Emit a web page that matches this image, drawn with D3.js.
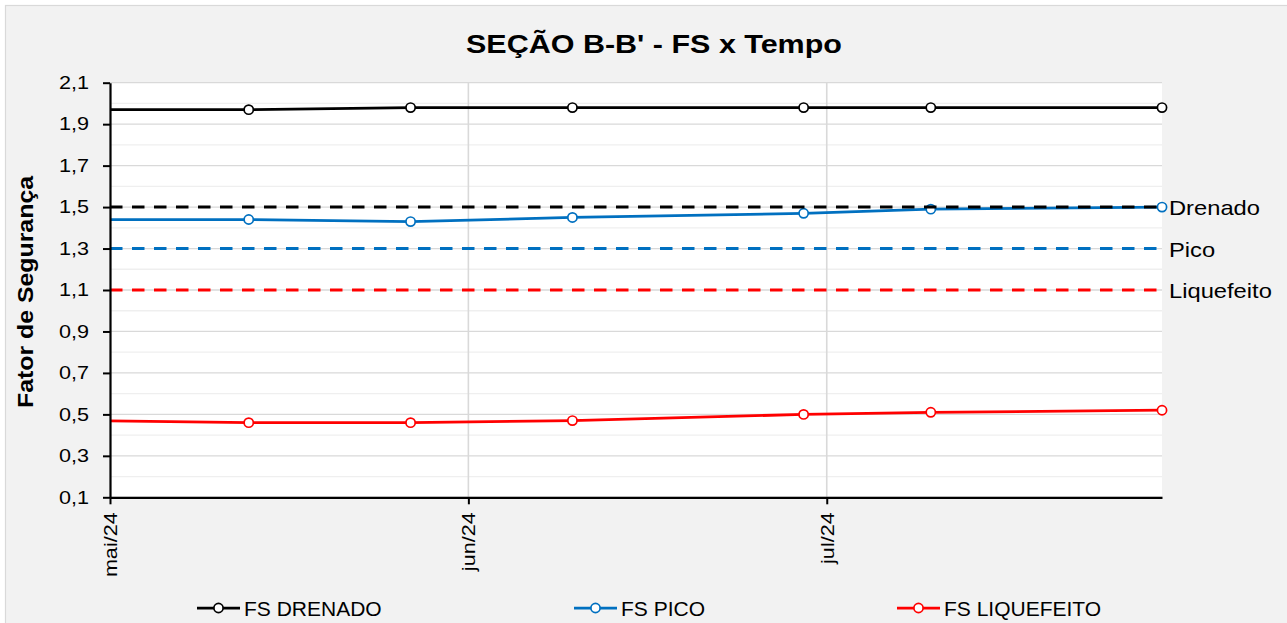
<!DOCTYPE html>
<html>
<head>
<meta charset="utf-8">
<script src="https://cdn.jsdelivr.net/npm/d3@7"></script>
<style>
  html, body { margin: 0; padding: 0; background: #ffffff; }
  svg { display: block; font-family: "Liberation Sans", Arial, sans-serif; }
</style>
</head>
<body>
<svg id="chart" width="1287" height="623"></svg>
<script>
// ---- data ----
const dates        = ["2024-04-29", "2024-05-13", "2024-05-27", "2024-06-10", "2024-06-30", "2024-07-11", "2024-07-31"];
const fsDrenado    = [1.97, 1.97, 1.98, 1.98, 1.98, 1.98, 1.98];
const fsPico       = [1.44, 1.44, 1.43, 1.45, 1.47, 1.49, 1.50];
const fsLiquefeito = [0.47, 0.46, 0.46, 0.47, 0.50, 0.51, 0.52];

const seriesNames  = ["FS DRENADO", "FS PICO", "FS LIQUEFEITO"];
const seriesColors = ["#000000", "#0070C0", "#FF0000"];

const limitValues  = [1.5, 1.3, 1.1];
const limitLabels  = ["Drenado", "Pico", "Liquefeito"];
const limitColors  = ["#000000", "#0070C0", "#FF0000"];

const xDomain      = ["2024-05-01", "2024-07-31"];
const xTickDates   = ["2024-05-01", "2024-06-01", "2024-07-02"];
const xTickLabels  = ["mai/24", "jun/24", "jul/24"];
const yDomain      = [0.1, 2.1];
const yTicks       = [0.1, 0.3, 0.5, 0.7, 0.9, 1.1, 1.3, 1.5, 1.7, 1.9, 2.1];
const yMinorTicks  = [0.2, 0.4, 0.6, 0.8, 1.0, 1.2, 1.4, 1.6, 1.8, 2.0];

const titleText    = "SEÇÃO B-B' - FS x Tempo";
const yTitleText   = "Fator de Segurança";

// ---- layout ----
const W = 1287, H = 623;
const plot = { left: 110, right: 1162, top: 82.7, bottom: 497.3 };

const parse = d3.utcParse("%Y-%m-%d");
const x = d3.scaleUtc().domain(xDomain.map(parse)).range([plot.left, plot.right]);
const y = d3.scaleLinear().domain(yDomain).range([plot.bottom, plot.top]);

const svg = d3.select("#chart");

// chart area background with thin border
svg.append("rect")
  .attr("x", 5.5).attr("y", 5.5)
  .attr("width", W + 20).attr("height", H + 20)
  .attr("fill", "#f2f2f2").attr("stroke", "#d9d9d9").attr("stroke-width", 1.2);

// plot area
svg.append("rect")
  .attr("x", plot.left).attr("y", plot.top)
  .attr("width", plot.right - plot.left).attr("height", plot.bottom - plot.top)
  .attr("fill", "#ffffff");

// gridlines
const grid = svg.append("g");
grid.selectAll("line.minor").data(yMinorTicks).join("line")
  .attr("x1", plot.left).attr("x2", plot.right)
  .attr("y1", d => y(d)).attr("y2", d => y(d))
  .attr("stroke", "#efefef").attr("stroke-width", 1.3);
grid.selectAll("line.major").data(yTicks).join("line")
  .attr("x1", plot.left).attr("x2", plot.right)
  .attr("y1", d => y(d)).attr("y2", d => y(d))
  .attr("stroke", "#d9d9d9").attr("stroke-width", 1.3);
grid.selectAll("line.vert").data(xTickDates.slice(1)).join("line")
  .attr("x1", d => x(parse(d))).attr("x2", d => x(parse(d)))
  .attr("y1", plot.top).attr("y2", plot.bottom)
  .attr("stroke", "#d9d9d9").attr("stroke-width", 1.6);

// clip for the series lines
svg.append("clipPath").attr("id", "plotClip")
  .append("rect")
  .attr("x", plot.left).attr("y", plot.top - 20)
  .attr("width", plot.right - plot.left).attr("height", plot.bottom - plot.top + 20);

const series = [fsDrenado, fsPico, fsLiquefeito].map((vals, i) => ({
  name: seriesNames[i],
  color: seriesColors[i],
  points: vals.map((v, j) => ({ date: parse(dates[j]), value: v }))
}));

const line = d3.line().x(d => x(d.date)).y(d => y(d.value));
const [d0, d1] = x.domain();

const sg = svg.append("g");
series.forEach(s => {
  sg.append("path")
    .attr("d", line(s.points))
    .attr("fill", "none")
    .attr("stroke", s.color)
    .attr("stroke-width", 2.75)
    .attr("clip-path", "url(#plotClip)");
});
series.forEach(s => {
  sg.selectAll(null)
    .data(s.points.filter(p => p.date >= d0 && p.date <= d1))
    .join("circle")
    .attr("cx", d => x(d.date)).attr("cy", d => y(d.value))
    .attr("r", 4.6)
    .attr("fill", "#ffffff")
    .attr("stroke", s.color)
    .attr("stroke-width", 1.7);
});

// limit lines with labels
const lg = svg.append("g");
limitValues.forEach((v, i) => {
  lg.append("line")
    .attr("x1", plot.left).attr("x2", plot.right)
    .attr("y1", y(v)).attr("y2", y(v))
    .attr("stroke", limitColors[i])
    .attr("stroke-width", 3)
    .attr("stroke-dasharray", "12.5,9.5");
  lg.append("text")
    .attr("transform", `translate(${plot.right + 7},${y(v) + 8}) scale(1.13,1)`)
    .attr("font-size", 21)
    .attr("fill", "#000")
    .text(limitLabels[i]);
});

// axes
const yAxis = d3.axisLeft(y)
  .tickValues(yTicks)
  .tickFormat(d => d.toFixed(1).replace(".", ","))
  .tickSize(7).tickSizeOuter(0).tickPadding(14);
const yg = svg.append("g").attr("transform", `translate(${plot.left},0)`).call(yAxis);
yg.select(".domain").attr("stroke", "#000").attr("stroke-width", 2.2);
yg.selectAll(".tick line").attr("stroke", "#000").attr("stroke-width", 2);
yg.selectAll(".tick text")
  .attr("font-size", 18).attr("fill", "#000")
  .attr("font-family", "'Liberation Sans', Arial, sans-serif")
  .each(function () {
    const t = d3.select(this);
    const tx = +t.attr("x");
    t.attr("x", 0).attr("transform", `translate(${tx},0) scale(1.2,1)`);
  });

const xAxis = d3.axisBottom(x)
  .tickValues(xTickDates.map(parse))
  .tickFormat((d, i) => xTickLabels[i])
  .tickSize(7).tickSizeOuter(0);
const xg = svg.append("g").attr("transform", `translate(0,${plot.bottom})`).call(xAxis);
xg.select(".domain").attr("stroke", "#000").attr("stroke-width", 2.2);
xg.selectAll(".tick line").attr("stroke", "#000").attr("stroke-width", 2);
xg.selectAll(".tick text")
  .attr("font-size", 18).attr("fill", "#000")
  .attr("font-family", "'Liberation Sans', Arial, sans-serif")
  .attr("x", 0).attr("y", 0).attr("dy", "0.35em")
  .attr("text-anchor", "end")
  .attr("transform", "translate(0,15) rotate(-90) scale(1.2,1)");

// title
svg.append("text")
  .attr("transform", "translate(654,53) scale(1.22,1)")
  .attr("text-anchor", "middle")
  .attr("font-size", 25).attr("font-weight", "bold").attr("fill", "#000")
  .text(titleText);

// y axis title
svg.append("text")
  .attr("transform", "translate(33,292) rotate(-90) scale(1.13,1)")
  .attr("text-anchor", "middle")
  .attr("font-size", 22).attr("font-weight", "bold").attr("fill", "#000")
  .text(yTitleText);

// legend
const legendX = [197, 574, 897];
const legendY = 608;
const lgd = svg.append("g");
series.forEach((s, i) => {
  const gx = legendX[i];
  lgd.append("line")
    .attr("x1", gx).attr("x2", gx + 43)
    .attr("y1", legendY).attr("y2", legendY)
    .attr("stroke", s.color).attr("stroke-width", 2.75);
  lgd.append("circle")
    .attr("cx", gx + 21.5).attr("cy", legendY).attr("r", 4.6)
    .attr("fill", "#fff").attr("stroke", s.color).attr("stroke-width", 1.7);
  lgd.append("text")
    .attr("x", gx + 47).attr("y", legendY + 7.7)
    .attr("font-size", 21).attr("fill", "#000")
    .text(s.name);
});
</script>
</body>
</html>
